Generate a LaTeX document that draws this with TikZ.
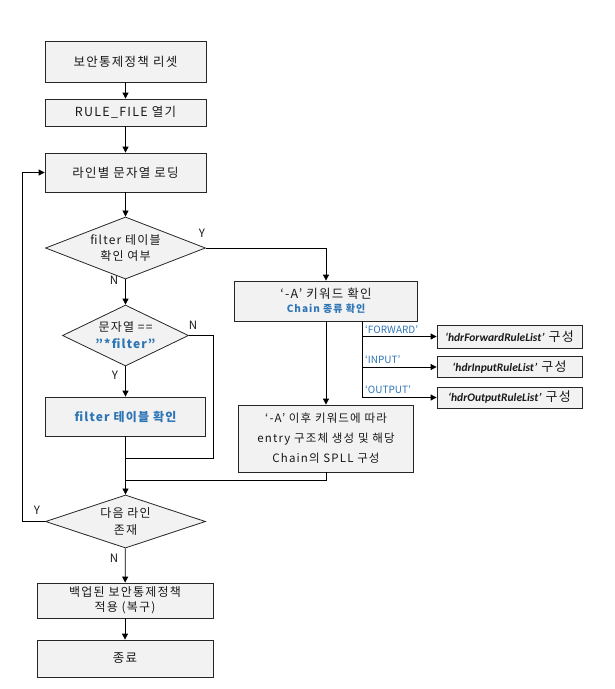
\documentclass[tikz,border=0pt]{standalone}
\usepackage{fontspec}
\setmainfont{Noto Sans CJK KR}[LetterSpace=10]
\newfontfamily\plainkr{Noto Sans CJK KR}
\newfontfamily\latinit{Carlito}
\usetikzlibrary{arrows.meta}
\usetikzlibrary{shapes.geometric}
\definecolor{boxfill}{HTML}{F2F2F2}
\definecolor{chainblue}{HTML}{2E75B6}
\newcommand{\rulelist}[1]{{\latinit\bfseries\itshape\fontsize{11.5}{13}\selectfont ‘hdr#1RuleList’}~{\fontsize{13}{14}\selectfont 구성}}

\begin{document}
\begin{tikzpicture}[x=1pt,y=-1pt,every node/.style={font=\fontsize{12.5}{16}\selectfont,text=black!90},box/.style={rectangle,draw=black!85,fill=boxfill,line width=0.8pt,align=center,inner sep=1pt},decision/.style={diamond,draw=black!85,fill=boxfill,line width=0.8pt,align=center,inner sep=0pt,aspect=2},arr/.style={-{Triangle[length=6pt,width=6pt]},line width=0.8pt},line/.style={line width=0.8pt},yn/.style={font=\fontsize{11.5}{13}\selectfont},chainlbl/.style={font=\plainkr\fontsize{10}{11}\selectfont,text=chainblue,anchor=west,inner sep=1pt}]

	\useasboundingbox (0,0) rectangle (615,689);

	% main column
	\node[box,minimum width=161pt,minimum height=41pt] (reset) at (125.5,61.5) {보안통제정책 리셋};
	\node[box,minimum width=161pt,minimum height=27pt] (open) at (125.5,112.5) {RULE\_FILE 열기};
	\node[box,minimum width=161pt,minimum height=39pt] (load) at (125.5,172.5) {라인별 문자열 로딩};
	\node[decision,minimum width=160pt,minimum height=50pt,font=\fontsize{12}{16}\selectfont] (istab) at (125.5,248) {filter 테이블\\확인 여부};
	\node[decision,minimum width=126pt,minimum height=61pt,font=\fontsize{12}{17}\selectfont] (isflt) at (125.5,335.5) {문자열 ==\\{\color{chainblue}\bfseries"*filter"}};
	\node[box,minimum width=160pt,minimum height=39pt,text=chainblue,font=\fontsize{12}{15}\selectfont\bfseries] (fltok) at (125.5,416.5) {filter 테이블 확인};
	\node[decision,minimum width=160pt,minimum height=53pt,font=\fontsize{12}{17}\selectfont] (next) at (125.5,521.5) {다음 라인\\존재};
	\node[box,minimum width=176pt,minimum height=35pt,font=\fontsize{12}{15}\selectfont] (restore) at (125,600.5) {백업된 보안통제정책\\적용 (복구)};
	\node[box,minimum width=176pt,minimum height=37pt] (done) at (125,658.5) {종료};

	% chain column
	\node[box,minimum width=183pt,minimum height=40pt,font=\fontsize{12.5}{14}\selectfont] (chain) at (326,301) {`-A' 키워드 확인\\{\fontsize{10}{12}\selectfont\bfseries\color{chainblue}Chain 종류 확인}};
	\node[box,minimum width=175pt,minimum height=67pt,font=\fontsize{11.5}{20}\selectfont] (build) at (326,438.5) {`-A' 이후 키워드에 따라\\entry 구조체 생성 및 해당\\Chain의 SPLL 구성};
	\node[box,minimum width=145pt,minimum height=23pt] (fwd) at (509.5,336.5) {\rulelist{Forward}};
	\node[box,minimum width=145pt,minimum height=21pt] (inp) at (509.5,367) {\rulelist{Input}};
	\node[box,minimum width=145pt,minimum height=21pt] (outp) at (509.5,397.5) {\rulelist{Output}};

	\coordinate (br) at (362,321);
	\coordinate (nright) at (213,458);
	\coordinate (join) at (125.5,480);
	\coordinate (loop) at (22,521.5);

	% connectors
	\draw[arr] (reset) -- (open);
	\draw[arr] (open) -- (load);
	\draw[arr] (load) -- (istab);
	\draw[arr] (istab) -- (isflt);
	\draw[arr] (isflt) -- (fltok);
	\draw[arr] (fltok) -- (next);
	\draw[arr] (next) -- (restore);
	\draw[arr] (restore) -- (done);
	\draw[arr] (istab.east) -| (chain.north);
	\draw[arr] (chain) -- (build);
	\draw[line] (isflt.east) -| (nright) -- (nright -| next.north);
	\draw[line] (build.south) |- (join);
	\draw[arr] (next.west) -- (loop) |- (load.west);
	\draw[arr] (br) |- (fwd.west);
	\draw[arr] (br) |- (inp.west);
	\draw[arr] (br) |- (outp.west);

	% labels
	\node[yn] at (202,233) {Y};
	\node[yn] at (114,280) {N};
	\node[yn] at (193,325) {N};
	\node[yn] at (115,375) {Y};
	\node[yn] at (37,510) {Y};
	\node[yn] at (114,558) {N};
	\node[chainlbl] at (364,330) {‘FORWARD’};
	\node[chainlbl] at (364,360) {‘INPUT’};
	\node[chainlbl] at (364,390) {‘OUTPUT’};
\end{tikzpicture}
\end{document}
